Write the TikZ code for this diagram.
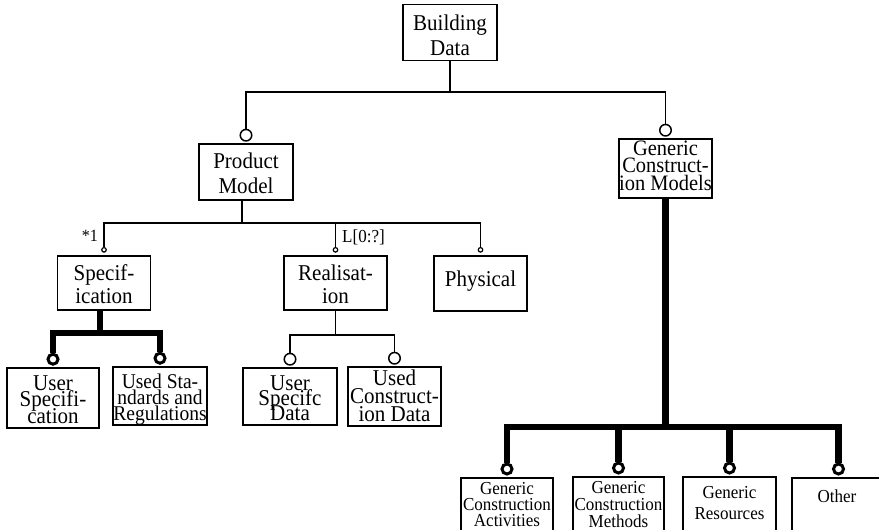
\documentclass[tikz,border=0pt]{standalone}
\usepackage{fontspec}
\setmainfont{Liberation Serif}[FakeStretch=0.93]
\usetikzlibrary{positioning}
% struts that fix the height of a first line and the depth of a last line
\newcommand\linehi[1]{\rule{0pt}{#1pt}}
\newcommand\linedp[1]{\rule[-#1pt]{0pt}{0pt}}
\begin{document}
\lineskiplimit=-100pt
\lineskip=0pt
\begin{tikzpicture}[x=1pt,y=-1pt,
  box/.style={draw, line width=1.6pt, inner sep=0pt, align=center},
  fnt/.style 2 args={font=\fontsize{#1}{#2}\selectfont},
  thinline/.style={line width=1.6pt},
  boldline/.style={line width=6.5pt},
  ring/.style={circle, draw, line width=1.5pt, minimum size=11.5pt, inner sep=0pt},
  boldring/.style={circle, draw, line width=3pt, minimum size=10pt, inner sep=0pt},
  dotring/.style={circle, draw, line width=1.2pt, minimum size=4.5pt, inner sep=0pt},
]
\clip (0,0) rectangle (879,530);
\fill[white] (0,0) rectangle (879,530);

% upper boxes
\node[box, fnt={22.6}{25}, minimum width=94pt, minimum height=55pt] (bd) at (450,32.5) {\linehi{26}Building\\Data\linedp{5}};
\node[box, fnt={22.6}{25}, minimum width=94pt, minimum height=56pt] (pm) at (246,172) {\linehi{23}Product\\Model\linedp{5}};
\node[box, fnt={22}{17.5}, minimum width=93pt, minimum height=55pt] (gcm) at (665.5,168.5) {\linehi{16}Generic\\Construct-\\ion Models\linedp{8}};
\node[box, fnt={22.6}{23}, minimum width=93pt, minimum height=54pt] (spec) at (104,283) {\linehi{22}Specif-\\ication\linedp{5}};
\node[box, fnt={22.6}{23}, minimum width=103pt, minimum height=54pt] (real) at (335.5,283) {\linehi{22}Realisat-\\ion\linedp{5}};
\node[box, fnt={22.6}{23}, minimum width=93pt, minimum height=55pt] (phys) at (480.5,283.5) {\linehi{17}Physical\linedp{12}};

% second-level boxes
\node[box, fnt={22.6}{16.5}, minimum width=92pt, minimum height=54pt] (us) at (53,398) {\linehi{22}User\\Specifi-\\cation\linedp{5}};
\node[box, fnt={21}{16}, minimum width=94pt, minimum height=55pt] (usr) at (160,396) {\linehi{21}Used Sta-\\ndards and\\Regulations\linedp{5}};
\node[box, fnt={22.6}{15}, minimum width=94pt, minimum height=53pt] (usd) at (290,396.5) {\linehi{22}User\\Specifc\\Data\linedp{5}};
\node[box, fnt={22.6}{18}, minimum width=93pt, minimum height=53pt] (ucd) at (394.5,396.5) {\linehi{18}Used\\Construct-\\ion Data\linedp{5}};

% bottom row boxes, running past the lower edge
\node[box, minimum width=92pt, minimum height=70pt, anchor=north] (gca) at (507,477) {};
\node[box, minimum width=91pt, minimum height=70pt, anchor=north] (gcmeth) at (618.5,476) {};
\node[box, minimum width=93pt, minimum height=70pt, anchor=north] (gr) at (729.5,476) {};
\node[box, minimum width=93pt, minimum height=70pt, anchor=north] (oth) at (838.5,477) {};
\node[fnt={18.3}{16}, align=center, anchor=north, inner sep=0pt] (gca-t) at (507,480) {\linehi{14}Generic\\Construction\\Activities};
\node[fnt={18.3}{17}, align=center, anchor=north, inner sep=0pt] (gcmeth-t) at (618.5,479) {\linehi{14}Generic\\Construction\\Methods};
\node[fnt={18.3}{21}, align=center, anchor=north, inner sep=0pt] (gr-t) at (729.5,484) {\linehi{14}Generic\\Resources};
\node[fnt={18.3}{18}, anchor=base, inner sep=0pt] (oth-t) at (837,502) {Other};

% cardinality labels
\node[fnt={17.2}{18}, anchor=base east, inner sep=0pt] (spec-m) at (98,241) {*1};
\node[fnt={18.3}{18}, anchor=base west, inner sep=0pt] (real-m) at (342,242) {L[0:?]};

% rings on top of the child boxes
\node[ring, above=1.5pt of pm] (pm-r) {};
\node[ring, above=1.5pt of gcm] (gcm-r) {};
\node[dotring, above=2.5pt of spec] (spec-r) {};
\node[dotring, above=2.5pt of real] (real-r) {};
\node[dotring, above=2.5pt of phys] (phys-r) {};
\node[ring, above=1.5pt of usd] (usd-r) {};
\node[ring, above=1.5pt of ucd] (ucd-r) {};
\node[boldring, above=1.5pt of us] (us-r) {};
\node[boldring, above=1.5pt of usr] (usr-r) {};
\node[boldring, above=1.5pt of gca] (gca-r) {};
\node[boldring, above=1.5pt of gcmeth] (gcmeth-r) {};
\node[boldring, above=1.5pt of gr] (gr-r) {};
\node[boldring, above=1.5pt of oth] (oth-r) {};

% bus levels
\coordinate (busA) at (0,92);
\coordinate (busB) at (0,223);
\coordinate (busC) at (0,335);
\coordinate (busD) at (0,333);
\coordinate (busE) at (0,427);
\coordinate (pm-s) at ([xshift=-4pt]pm.south);
\coordinate (spec-s) at ([xshift=-4pt]spec.south);

% connectors
\draw[thinline] (bd.south) -- (bd.south |- busA) -| (pm-r.north);
\draw[thinline] (bd.south) -- (bd.south |- busA) -| (gcm-r.north);

\draw[thinline] (pm-s) -- (pm-s |- busB) -| (spec-r.north);
\draw[thinline] (pm-s) -- (pm-s |- busB) -| (real-r.north);
\draw[thinline] (pm-s) -- (pm-s |- busB) -| (phys-r.north);

\draw[thinline] (real.south) -- (real.south |- busC) -| (usd-r.north);
\draw[thinline] (real.south) -- (real.south |- busC) -| (ucd-r.north);

\draw[boldline] (spec-s) -- (spec-s |- busD) -| (us-r.north);
\draw[boldline] (spec-s) -- (spec-s |- busD) -| (usr-r.north);

\draw[boldline] (gcm.south) -- (gcm.south |- busE) -| (gca-r.north);
\draw[boldline] (gcm.south) -- (gcm.south |- busE) -| (gcmeth-r.north);
\draw[boldline] (gcm.south) -- (gcm.south |- busE) -| (gr-r.north);
\draw[boldline] (gcm.south) -- (gcm.south |- busE) -| (oth-r.north);
\end{tikzpicture}
\end{document}
